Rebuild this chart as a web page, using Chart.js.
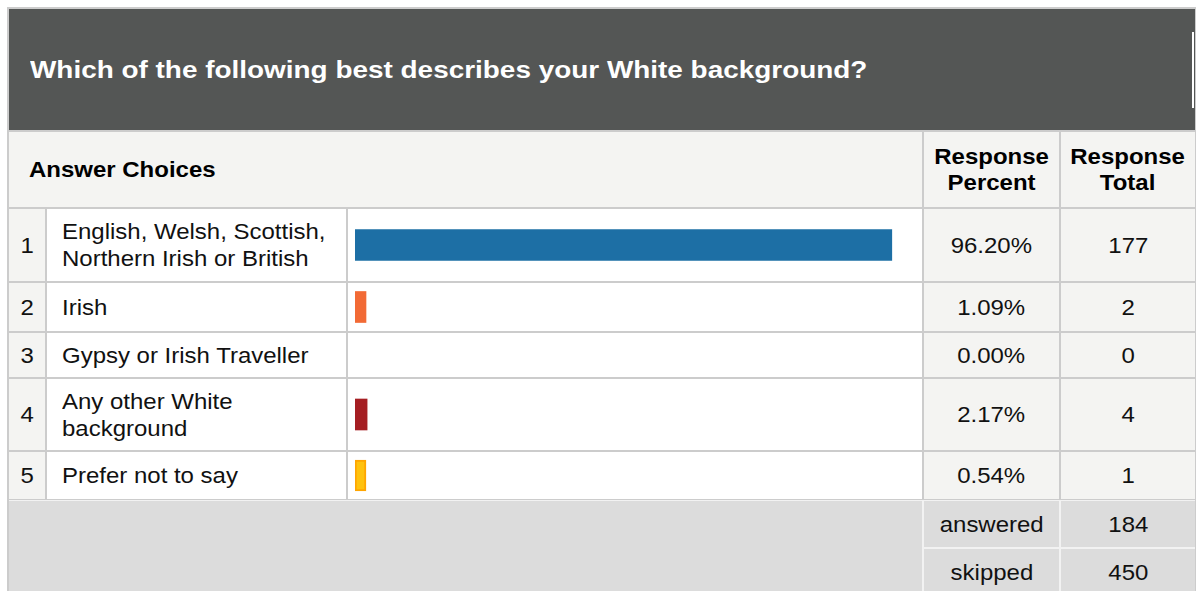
<!DOCTYPE html>
<html>
<head>
<meta charset="utf-8">
<script src="https://cdn.jsdelivr.net/npm/chart.js@4.4.1/dist/chart.umd.min.js"></script>
<style>
  html, body { margin: 0; padding: 0; background: #fff; overflow: hidden; }
  body { width: 1196px; height: 591px; position: relative; font-family: "Liberation Sans", Arial, sans-serif; color: #111; }
  .abs { position: absolute; box-sizing: border-box; }
  .cell { display: flex; align-items: center; font-size: 22px; line-height: 27px; }
  .cell > span { display: inline-block; transform: scaleX(1.09); transform-origin: left center; white-space: nowrap; }
  .center { justify-content: center; text-align: center; }
  .center > span { transform-origin: center center; }
  .bold { font-weight: bold; color: #000; }
</style>
</head>
<body>
<div id="page"></div>
<script>
const title = "Which of the following best describes your White background?";
const choiceLines = [
  ["English, Welsh, Scottish,", "Northern Irish or British"],
  ["Irish"],
  ["Gypsy or Irish Traveller"],
  ["Any other White", "background"],
  ["Prefer not to say"]
];
const percents = [96.20, 1.09, 0.00, 2.17, 0.54];
const totals = [177, 2, 0, 4, 1];
const barColors = ["#1d6fa5", "#f26a35", "#9e9e9e", "#a51e22", "#ffc20e"];
const barBorders = ["#1d6fa5", "#f26a35", "#9e9e9e", "#a51e22", "#ffa500"];
const answeredCount = 184;
const skippedCount = 450;

// --- Layout (page pixels) ---
const rowTops = [209, 283, 333, 379, 452];
const rowHeights = [72, 48, 44, 71, 47];
const cols = {
  num:   { x: 9,    w: 36 },
  text:  { x: 47,   w: 299 },
  bar:   { x: 348,  w: 574 },
  pct:   { x: 924,  w: 135 },
  total: { x: 1061, w: 134 }
};

const page = document.getElementById("page");

function box(x, y, w, h, bg, cls, html) {
  const d = document.createElement("div");
  d.className = "abs " + (cls || "");
  d.style.left = x + "px";
  d.style.top = y + "px";
  d.style.width = w + "px";
  d.style.height = h + "px";
  if (bg) d.style.background = bg;
  if (html !== undefined) d.innerHTML = "<span>" + html + "</span>";
  page.appendChild(d);
  return d;
}

// frame (grid line colour shows through the gaps)
box(7, 7, 1189, 600, "#cccccc");

// title bar
const head = box(9, 9, 1186, 121, "#545655", "cell", title);
head.style.color = "#fff";
head.style.fontWeight = "bold";
head.style.fontSize = "24px";
head.style.paddingLeft = "21px";
head.firstChild.style.transform = "scaleX(1.163)";
box(1192, 32, 2, 76, "#ffffff");

// column headings
const ac = box(9, 132, 913, 75, "#f4f4f2", "cell bold", "Answer Choices");
ac.style.paddingLeft = "20px";
box(cols.pct.x, 132, cols.pct.w, 75, "#f4f4f2", "cell center bold", "Response<br>Percent").style.lineHeight = "26px";
box(cols.total.x, 132, cols.total.w, 75, "#f4f4f2", "cell center bold", "Response<br>Total").style.lineHeight = "26px";

// body rows
const canvases = [];
choiceLines.forEach((lines, i) => {
  const y = rowTops[i], h = rowHeights[i];
  box(cols.num.x, y, cols.num.w, h, "#f4f4f2", "cell center", String(i + 1));
  const t = box(cols.text.x, y, cols.text.w, h, "#ffffff", "cell", lines.join("<br>"));
  t.style.paddingLeft = "15px";
  const b = box(cols.bar.x, y, cols.bar.w, h, "#ffffff");
  const cv = document.createElement("canvas");
  cv.width = cols.bar.w;
  cv.height = h;
  cv.style.display = "block";
  b.appendChild(cv);
  canvases.push(cv);
  box(cols.pct.x, y, cols.pct.w, h, "#f4f4f2", "cell center", percents[i].toFixed(2) + "%");
  box(cols.total.x, y, cols.total.w, h, "#f4f4f2", "cell center", String(totals[i]));
});

// summary block
box(9, 500, 1186, 100, "#f2f2f2");
box(9, 501, 913, 100, "#dcdcdc");
box(cols.pct.x, 501, cols.pct.w, 46, "#dcdcdc", "cell center", "answered");
box(cols.total.x, 501, cols.total.w, 46, "#dcdcdc", "cell center", String(answeredCount));
const sk1 = box(cols.pct.x, 549, cols.pct.w, 60, "#dcdcdc", "cell center", "skipped");
const sk2 = box(cols.total.x, 549, cols.total.w, 60, "#dcdcdc", "cell center", String(skippedCount));
[sk1, sk2].forEach(d => { d.style.alignItems = "flex-start"; d.style.paddingTop = "10px"; });

// --- one small horizontal bar chart per answer row ---
canvases.forEach((cv, i) => {
  new Chart(cv.getContext("2d"), {
    type: "bar",
    data: {
      labels: [choiceLines[i].join(" ")],
      datasets: [{
        data: [percents[i] > 0 ? percents[i] : null],
        backgroundColor: barColors[i],
        borderColor: barBorders[i],
        borderWidth: i === 4 ? 2 : 0,
        borderSkipped: false,
        barThickness: 31,
        minBarLength: 11
      }]
    },
    options: {
      indexAxis: "y",
      responsive: false,
      animation: false,
      events: [],
      layout: { padding: { left: 7, right: 9, top: 0, bottom: 0 } },
      plugins: { legend: { display: false }, tooltip: { enabled: false } },
      scales: {
        x: { display: false, min: 0, max: 100 },
        y: { display: false }
      }
    }
  });
});
</script>
</body>
</html>
